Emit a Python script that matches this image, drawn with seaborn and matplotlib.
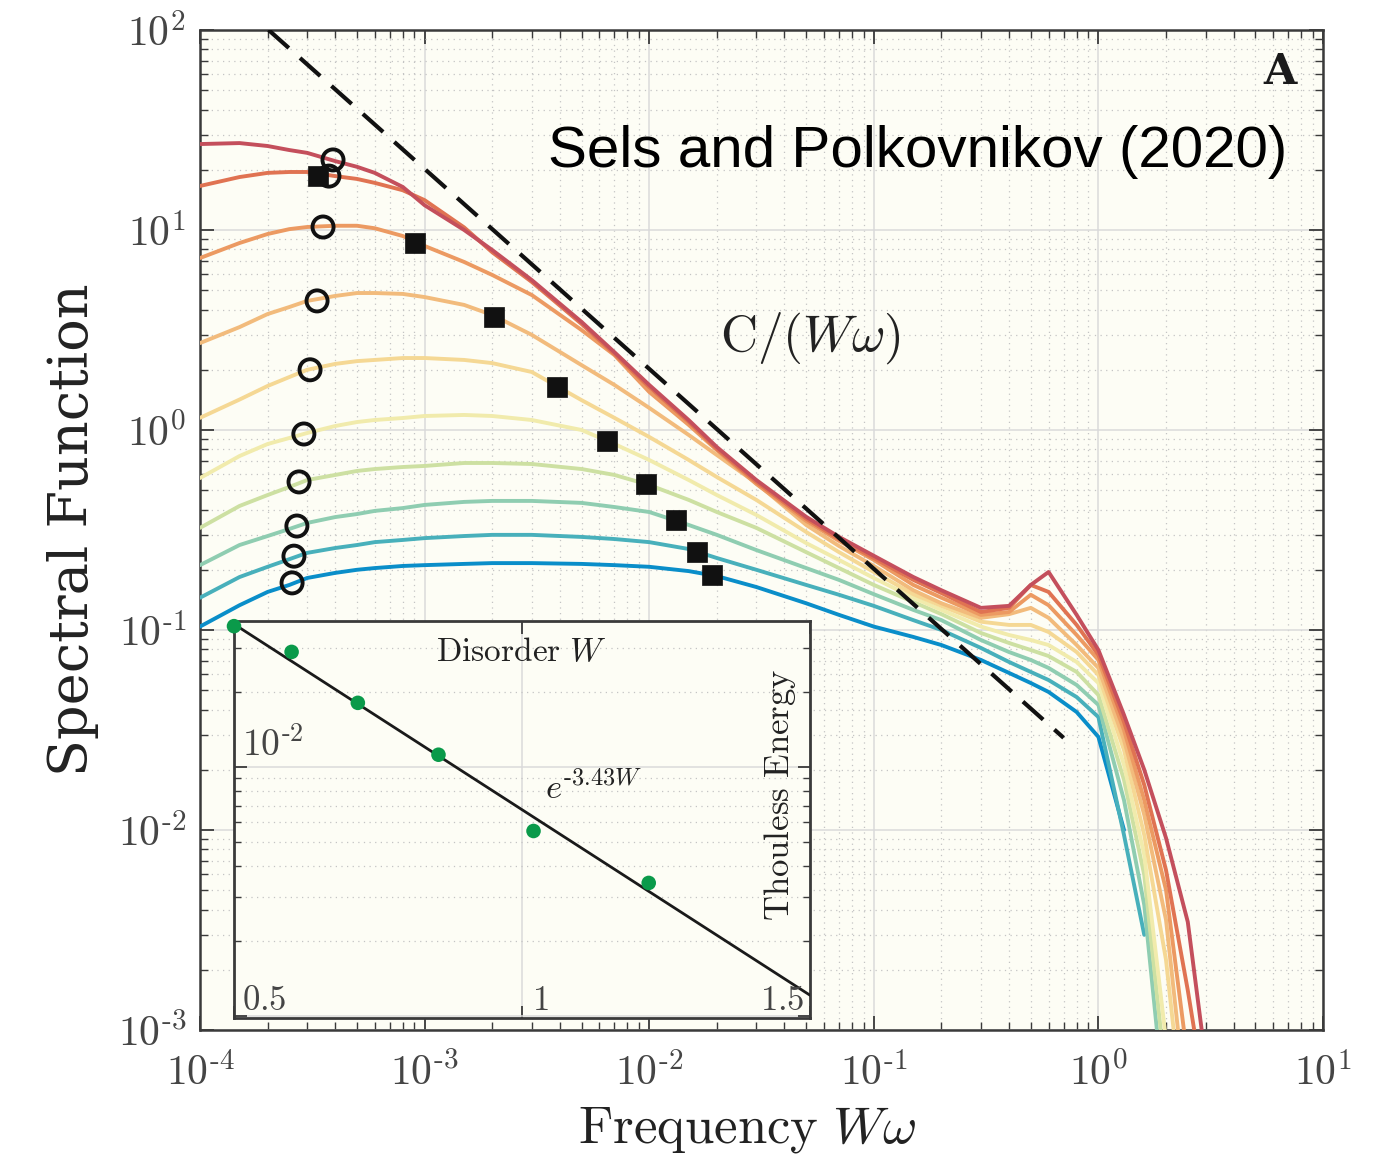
import numpy as np
import pandas as pd
import matplotlib
matplotlib.use("Agg")
import matplotlib.pyplot as plt
import matplotlib.ticker as mticker
import seaborn as sns

# ---------------- data ----------------
freq = [1.0e-4, 1.5e-4, 2e-4, 2.5e-4, 3e-4, 4e-4, 5e-4, 6e-4, 8e-4, 1e-3, 1.5e-3, 2e-3,
        3e-3, 5e-3, 7e-3, 1e-2, 1.5e-2, 2e-2, 3e-2, 5e-2, 7e-2, 0.1, 0.15, 0.2, 0.3,
        0.4, 0.5, 0.6, 0.8, 1.0, 1.3, 1.6, 2.0, 2.5, 3.0]
nan = float("nan")
spec_c1 = [26.9, 27.2, 26.3, 25.1, 24.3, 22.1, 20.7, 19.3, 16.4, 13.3, 10.0, 7.94,
           5.62, 3.47, 2.45, 1.68, 1.12, 0.822, 0.562, 0.368, 0.292, 0.235, 0.184, 0.158,
           0.129, 0.132, 0.168, 0.195, 0.119, 0.0794, 0.0376, 0.020, 0.00912, 0.00347, 0.000708]
spec_c2 = [16.6, 18.4, 19.3, 19.5, 19.5, 18.6, 18.0, 17.2, 15.8, 14.1, 10.3, 7.74,
           5.50, 3.39, 2.40, 1.64, 1.10, 0.803, 0.550, 0.360, 0.285, 0.229, 0.178, 0.153,
           0.123, 0.129, 0.168, 0.155, 0.106, 0.075, 0.0347, 0.0168, 0.0063, 0.00158, 0.000447]
spec_c3 = [7.24, 8.61, 9.55, 10.1, 10.35, 10.5, 10.5, 10.2, 9.33, 8.32, 6.92, 5.96,
           4.73, 3.16, 2.37, 1.55, 1.06, 0.794, 0.537, 0.351, 0.279, 0.224, 0.168, 0.145,
           0.119, 0.123, 0.150, 0.133, 0.0944, 0.0708, 0.0316, 0.0141, 0.00501, 0.000708, 0.000251]
spec_c4 = [2.72, 3.27, 3.80, 4.12, 4.42, 4.68, 4.84, 4.84, 4.79, 4.62, 4.22, 3.76,
           2.99, 2.11, 1.68, 1.29, 0.944, 0.75, 0.543, 0.335, 0.263, 0.209, 0.158, 0.136,
           0.115, 0.120, 0.129, 0.115, 0.0841, 0.0646, 0.0282, 0.0119, 0.00355, 0.000355, nan]
spec_c5 = [1.15, 1.42, 1.66, 1.84, 2.0, 2.14, 2.21, 2.24, 2.29, 2.29, 2.24, 2.16,
           1.95, 1.41, 1.15, 0.923, 0.708, 0.582, 0.447, 0.309, 0.245, 0.195, 0.151, 0.132,
           0.110, 0.106, 0.106, 0.0977, 0.0776, 0.0596, 0.0251, 0.00944, 0.00224, 0.000224, nan]
spec_c6 = [0.575, 0.741, 0.851, 0.912, 0.966, 1.047, 1.096, 1.122, 1.148, 1.175, 1.189, 1.175,
           1.122, 1.0, 0.851, 0.708, 0.562, 0.473, 0.376, 0.272, 0.224, 0.182, 0.145, 0.126,
           0.104, 0.0944, 0.0891, 0.0841, 0.0692, 0.0543, 0.0211, 0.0075, 0.000891, nan, nan]
spec_c7 = [0.324, 0.417, 0.473, 0.519, 0.562, 0.596, 0.624, 0.638, 0.653, 0.661, 0.684, 0.684,
           0.676, 0.638, 0.596, 0.531, 0.447, 0.389, 0.324, 0.245, 0.204, 0.168, 0.138, 0.120,
           0.0966, 0.0861, 0.0794, 0.0741, 0.0617, 0.0473, 0.0178, 0.00596, 0.000562, nan, nan]
spec_c8 = [0.211, 0.266, 0.295, 0.320, 0.343, 0.367, 0.380, 0.394, 0.407, 0.422, 0.437, 0.442,
           0.442, 0.432, 0.412, 0.389, 0.335, 0.299, 0.251, 0.204, 0.178, 0.151, 0.126, 0.112,
           0.0891, 0.0776, 0.0708, 0.0646, 0.0531, 0.0422, 0.0141, 0.00422, 0.000355, nan, nan]
spec_c9 = [0.145, 0.184, 0.207, 0.226, 0.243, 0.257, 0.266, 0.275, 0.282, 0.288, 0.295, 0.299,
           0.299, 0.292, 0.285, 0.275, 0.254, 0.229, 0.200, 0.168, 0.150, 0.132, 0.112, 0.100,
           0.0813, 0.0692, 0.0617, 0.0562, 0.0462, 0.0367, 0.00944, 0.00299, nan, nan, nan]
spec_c10 = [0.104, 0.133, 0.155, 0.168, 0.182, 0.193, 0.200, 0.204, 0.209, 0.211, 0.214, 0.216,
            0.216, 0.214, 0.211, 0.207, 0.197, 0.186, 0.164, 0.136, 0.119, 0.104, 0.0923, 0.0841,
            0.0708, 0.061, 0.0543, 0.049, 0.0389, 0.0292, 0.0100, nan, nan, nan, nan]
curve_names = ["c1", "c2", "c3", "c4", "c5", "c6", "c7", "c8", "c9", "c10"]
curve_colors = ["#c44f5c", "#e07352", "#ec9a62", "#f2bb7c", "#f5d894",
                "#f1ebac", "#cde0a2", "#8fcdb1", "#48b0bb", "#0a8ec9"]

circle_x = [3.91e-4, 3.75e-4, 3.53e-4, 3.32e-4, 3.09e-4, 2.90e-4, 2.76e-4, 2.70e-4, 2.62e-4, 2.57e-4]
circle_y = [22.4, 18.6, 10.35, 4.42, 2.0, 0.955, 0.55, 0.331, 0.234, 0.172]
square_x = [3.35e-4, 9.06e-4, 2.04e-3, 3.89e-3, 6.49e-3, 9.67e-3, 1.32e-2, 1.63e-2, 1.90e-2]
square_y = [18.6, 8.61, 3.67, 1.64, 0.881, 0.537, 0.355, 0.245, 0.188]

dash_x = [2.02e-4, 0.70]
dash_y = [100.0, 0.0289]

# inset data
disorder_W = [0.5, 0.6, 0.715, 0.855, 1.02, 1.22]
thouless_E = [0.0368, 0.0290, 0.0181, 0.0112, 0.00553, 0.00342]
fit_W = [0.5, 1.5]
fit_E = [0.0375, 0.00121]

xtick_vals = [1e-4, 1e-3, 1e-2, 1e-1, 1e0, 1e1]
ytick_vals = [1e-3, 1e-2, 1e-1, 1e0, 1e1, 1e2]
inset_xticks = [0.5, 1.0, 1.5]
inset_xlabels = ["0.5", "1", "1.5"]

# ---------------- style ----------------
sns.set_style("ticks")
plt.rcParams["font.family"] = ["DejaVu Serif", "DejaVu Sans"]
plt.rcParams["mathtext.fontset"] = "cm"

BG = "#fdfdf5"
SPINE = "#3a3a3a"
TXT = "#454545"


def pow_label(v, p=None):
    e = int(round(np.log10(v)))
    if e < 0:
        return r"$10^{\text{-}%d}$" % (-e)
    return r"$10^{%d}$" % e


fig = plt.figure(figsize=(13.73, 11.55), dpi=100)
fig.patch.set_facecolor("white")
ax = fig.add_axes([0.14567, 0.10823, 0.81792, 0.86580])
ax.set_facecolor(BG)
ax.set_xscale("log")
ax.set_yscale("log")

rows = []
curves = [spec_c1, spec_c2, spec_c3, spec_c4, spec_c5, spec_c6, spec_c7, spec_c8, spec_c9, spec_c10]
for name, vals in zip(curve_names, curves):
    for f, v in zip(freq, vals):
        rows.append({"freq": f, "spec": v, "curve": name})
df = pd.DataFrame(rows).dropna()
pal = dict(zip(curve_names, curve_colors))

sns.lineplot(data=df, x="freq", y="spec", hue="curve", hue_order=curve_names[::-1],
             palette=pal, estimator=None, sort=False, legend=False, linewidth=2.8, ax=ax,
             zorder=3)
sns.lineplot(x=dash_x, y=dash_y, color="#111111", linewidth=3.0, ax=ax, zorder=4,
             linestyle=(0, (6.5, 3.6)))
sns.scatterplot(x=circle_x, y=circle_y, marker="o", s=230, facecolors="none",
                edgecolor="#111111", linewidth=2.8, ax=ax, zorder=5)
sns.scatterplot(x=square_x, y=square_y, marker="s", s=200, color="#111111",
                edgecolor="#111111", linewidth=0.5, ax=ax, zorder=5)

ax.set_xlim(1e-4, 1e1)
ax.set_ylim(1e-3, 1e2)

fmt = mticker.FuncFormatter(pow_label)
ax.xaxis.set_major_locator(mticker.FixedLocator(xtick_vals))
ax.yaxis.set_major_locator(mticker.FixedLocator(ytick_vals))
ax.xaxis.set_major_formatter(fmt)
ax.yaxis.set_major_formatter(fmt)
ax.xaxis.set_minor_locator(mticker.LogLocator(base=10, subs=np.arange(2, 10), numticks=20))
ax.yaxis.set_minor_locator(mticker.LogLocator(base=10, subs=np.arange(2, 10), numticks=20))
ax.xaxis.set_minor_formatter(mticker.NullFormatter())
ax.yaxis.set_minor_formatter(mticker.NullFormatter())
ax.tick_params(which="both", direction="in", top=True, right=True, color=SPINE)
ax.tick_params(which="major", length=10, width=1.3, labelsize=30, labelcolor=TXT)
ax.tick_params(axis="x", which="major", pad=16)
ax.tick_params(axis="y", which="major", pad=10)
ax.tick_params(which="minor", length=6, width=1.0)
ax.grid(True, which="major", color="#dadada", linewidth=1.1, linestyle="-")
ax.grid(True, which="minor", color="#c4c4c4", linewidth=0.9, linestyle=(0, (1, 3.5)))
ax.set_axisbelow(True)
for s in ax.spines.values():
    s.set_color(SPINE)
    s.set_linewidth(1.8)

ax.set_xlabel(r"$\mathrm{Frequency}\ W\omega$", fontsize=38, color="#222222")
ax.xaxis.set_label_coords(0.487, -0.074)
ax.set_ylabel("Spectral Function", fontsize=39, color="#222222", family="DejaVu Serif")
ax.yaxis.set_label_coords(-0.090, 0.5)

ax.text(0.962, 0.958, "A", transform=ax.transAxes, ha="center", va="center",
        fontsize=31, fontweight="bold", family="DejaVu Serif", color="#1a1a1a")
ax.text(0.310, 0.878, "Sels and Polkovnikov (2020)", transform=ax.transAxes,
        ha="left", va="center", fontsize=42, family="Liberation Sans", color="black")
ax.text(0.463, 0.692, r"$\mathrm{C}/(W\omega)$", transform=ax.transAxes,
        ha="left", va="center", fontsize=37, color="#222222")

# ---------------- inset ----------------
axi = fig.add_axes([234 / 1373, (1155 - 1018) / 1155, 576 / 1373, 397 / 1155])
axi.set_facecolor(BG)
axi.set_yscale("log")
sns.lineplot(x=fit_W, y=fit_E, color="#1a1a1a", linewidth=2.0, ax=axi, zorder=3)
sns.scatterplot(x=disorder_W, y=thouless_E, color="#0a9a4a", s=110, edgecolor="none",
                ax=axi, zorder=4, clip_on=False)
axi.set_xlim(0.5, 1.5)
axi.set_ylim(9.8e-4, 0.0386)
axi.xaxis.set_major_locator(mticker.FixedLocator(inset_xticks))
axi.xaxis.set_minor_locator(mticker.NullLocator())
axi.yaxis.set_major_locator(mticker.FixedLocator([1e-3, 1e-2]))
axi.yaxis.set_minor_locator(mticker.LogLocator(base=10, subs=np.arange(2, 10), numticks=20))
axi.xaxis.set_major_formatter(mticker.NullFormatter())
axi.yaxis.set_major_formatter(mticker.NullFormatter())
axi.yaxis.set_minor_formatter(mticker.NullFormatter())
axi.tick_params(which="both", direction="in", top=True, right=True, color=SPINE,
                labelbottom=False, labelleft=False)
axi.tick_params(which="major", length=9, width=1.3)
axi.tick_params(which="minor", length=5, width=1.0)
axi.grid(True, which="major", color="#dadada", linewidth=1.1, linestyle="-")
axi.grid(True, which="minor", axis="y", color="#c4c4c4", linewidth=0.9, linestyle=(0, (1, 3.5)))
axi.set_axisbelow(True)
axi.set_xlabel("")
axi.set_ylabel("")
for s in axi.spines.values():
    s.set_color(SPINE)
    s.set_linewidth(2.0)

for lab, ha, xf in zip(inset_xlabels, ["left", "center", "right"], [0.014, 0.531, 0.99]):
    axi.text(xf, 0.045, r"$\mathrm{%s}$" % lab, transform=axi.transAxes, ha=ha, va="center",
             fontsize=25, color=TXT)
axi.text(0.014, 0.688, r"$10^{\text{-}2}$", transform=axi.transAxes, ha="left", va="center",
         fontsize=27, color=TXT)
axi.text(0.498, 0.922, r"$\mathrm{Disorder}\ W$", transform=axi.transAxes, ha="center",
         va="center", fontsize=24, color="#222222")
axi.text(0.948, 0.562, r"$\mathrm{Thouless}\ \mathrm{Energy}$", transform=axi.transAxes,
         ha="center", va="center", rotation=90, fontsize=25, color="#222222")
axi.text(0.54, 0.578, r"$e^{\text{-}3.43W}$", transform=axi.transAxes, ha="left", va="center",
         fontsize=25, color="#222222")

fig.savefig("out.png", dpi=100, facecolor="white")
